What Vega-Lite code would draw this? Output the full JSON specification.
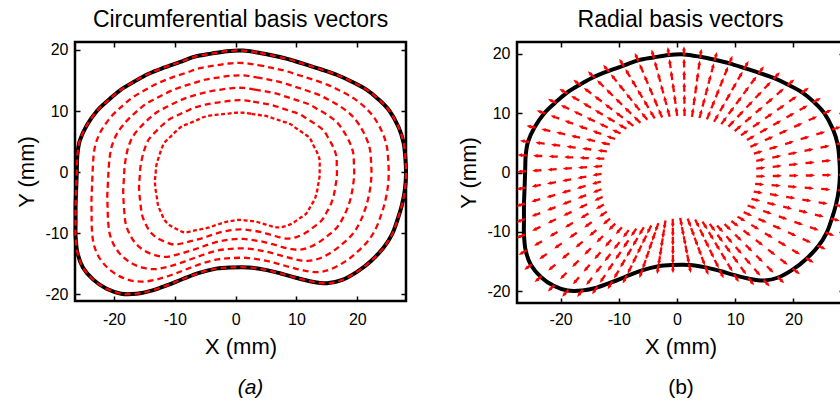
{
"$schema":"https://vega.github.io/schema/vega-lite/v6.json",
"padding":{"left":13,"top":8,"right":0,"bottom":0},
"datasets":{
"pts":[
{"c":0,"k":0,"x":1.2,"y":19.9},{"c":0,"k":1,"x":4.0,"y":19.5},{"c":0,"k":2,"x":6.5,"y":19.0},{"c":0,"k":3,"x":9.0,"y":18.4},{"c":0,"k":4,"x":11.6,"y":17.6},{"c":0,"k":5,"x":14.1,"y":16.8},{"c":0,"k":6,"x":16.7,"y":15.9},{"c":0,"k":7,"x":19.1,"y":14.8},{"c":0,"k":8,"x":21.5,"y":13.5},{"c":0,"k":9,"x":23.5,"y":11.9},{"c":0,"k":10,"x":25.3,"y":10.0},{"c":0,"k":11,"x":26.8,"y":7.3},{"c":0,"k":12,"x":27.6,"y":4.8},{"c":0,"k":13,"x":27.9,"y":2.2},{"c":0,"k":14,"x":28.0,"y":-0.4},{"c":0,"k":15,"x":27.8,"y":-3.0},{"c":0,"k":16,"x":27.3,"y":-5.5},{"c":0,"k":17,"x":26.6,"y":-7.8},{"c":0,"k":18,"x":25.7,"y":-10.2},{"c":0,"k":19,"x":24.3,"y":-12.4},{"c":0,"k":20,"x":22.3,"y":-14.5},{"c":0,"k":21,"x":20.0,"y":-16.3},{"c":0,"k":22,"x":17.4,"y":-17.7},{"c":0,"k":23,"x":15.0,"y":-18.2},{"c":0,"k":24,"x":12.4,"y":-17.9},{"c":0,"k":25,"x":9.9,"y":-17.3},{"c":0,"k":26,"x":7.4,"y":-16.6},{"c":0,"k":27,"x":4.9,"y":-16.0},{"c":0,"k":28,"x":2.1,"y":-15.6},{"c":0,"k":29,"x":-0.7,"y":-15.6},{"c":0,"k":30,"x":-3.2,"y":-15.8},{"c":0,"k":31,"x":-6.0,"y":-16.5},{"c":0,"k":32,"x":-8.7,"y":-17.5},{"c":0,"k":33,"x":-11.2,"y":-18.5},{"c":0,"k":34,"x":-13.8,"y":-19.4},{"c":0,"k":35,"x":-16.3,"y":-19.9},{"c":0,"k":36,"x":-18.8,"y":-19.9},{"c":0,"k":37,"x":-21.2,"y":-19.1},{"c":0,"k":38,"x":-23.4,"y":-17.6},{"c":0,"k":39,"x":-25.1,"y":-15.6},{"c":0,"k":40,"x":-26.0,"y":-13.2},{"c":0,"k":41,"x":-26.3,"y":-10.5},{"c":0,"k":42,"x":-26.3,"y":-7.9},{"c":0,"k":43,"x":-26.3,"y":-5.3},{"c":0,"k":44,"x":-26.2,"y":-2.6},{"c":0,"k":45,"x":-26.1,"y":0.2},{"c":0,"k":46,"x":-26.0,"y":2.9},{"c":0,"k":47,"x":-25.6,"y":5.2},{"c":0,"k":48,"x":-24.5,"y":7.6},{"c":0,"k":49,"x":-22.8,"y":10.0},{"c":0,"k":50,"x":-20.9,"y":11.8},{"c":0,"k":51,"x":-19.0,"y":13.4},{"c":0,"k":52,"x":-16.7,"y":14.8},{"c":0,"k":53,"x":-14.3,"y":16.1},{"c":0,"k":54,"x":-11.8,"y":17.1},{"c":0,"k":55,"x":-9.2,"y":18.0},{"c":0,"k":56,"x":-6.7,"y":18.9},{"c":0,"k":57,"x":-4.0,"y":19.4},{"c":0,"k":58,"x":-1.4,"y":19.8},
{"c":1,"k":0,"x":1.22,"y":17.86},{"c":1,"k":1,"x":3.72,"y":17.51},{"c":1,"k":2,"x":5.98,"y":17.07},{"c":1,"k":3,"x":8.24,"y":16.55},{"c":1,"k":4,"x":10.57,"y":15.82},{"c":1,"k":5,"x":12.82,"y":15.1},{"c":1,"k":6,"x":15.15,"y":14.29},{"c":1,"k":7,"x":17.29,"y":13.26},{"c":1,"k":8,"x":19.43,"y":12.07},{"c":1,"k":9,"x":21.23,"y":10.63},{"c":1,"k":10,"x":22.79,"y":8.88},{"c":1,"k":11,"x":24.12,"y":6.48},{"c":1,"k":12,"x":24.84,"y":4.24},{"c":1,"k":13,"x":25.08,"y":1.9},{"c":1,"k":14,"x":25.16,"y":-0.45},{"c":1,"k":15,"x":24.96,"y":-2.79},{"c":1,"k":16,"x":24.51,"y":-5.05},{"c":1,"k":17,"x":23.87,"y":-7.14},{"c":1,"k":18,"x":23.02,"y":-9.28},{"c":1,"k":19,"x":21.76,"y":-11.27},{"c":1,"k":20,"x":19.95,"y":-13.11},{"c":1,"k":21,"x":17.9,"y":-14.7},{"c":1,"k":22,"x":15.58,"y":-15.92},{"c":1,"k":23,"x":13.4,"y":-16.37},{"c":1,"k":24,"x":11.07,"y":-16.08},{"c":1,"k":25,"x":8.81,"y":-15.52},{"c":1,"k":26,"x":6.56,"y":-14.9},{"c":1,"k":27,"x":4.3,"y":-14.39},{"c":1,"k":28,"x":1.8,"y":-14.04},{"c":1,"k":29,"x":-0.71,"y":-14.08},{"c":1,"k":30,"x":-2.96,"y":-14.29},{"c":1,"k":31,"x":-5.45,"y":-14.94},{"c":1,"k":32,"x":-7.86,"y":-15.82},{"c":1,"k":33,"x":-10.12,"y":-16.68},{"c":1,"k":34,"x":-12.46,"y":-17.44},{"c":1,"k":35,"x":-14.72,"y":-17.89},{"c":1,"k":36,"x":-16.96,"y":-17.79},{"c":1,"k":37,"x":-19.11,"y":-17.03},{"c":1,"k":38,"x":-21.05,"y":-15.66},{"c":1,"k":39,"x":-22.52,"y":-13.82},{"c":1,"k":40,"x":-23.35,"y":-11.66},{"c":1,"k":41,"x":-23.63,"y":-9.24},{"c":1,"k":42,"x":-23.67,"y":-6.9},{"c":1,"k":43,"x":-23.69,"y":-4.55},{"c":1,"k":44,"x":-23.59,"y":-2.13},{"c":1,"k":45,"x":-23.49,"y":0.37},{"c":1,"k":46,"x":-23.33,"y":2.79},{"c":1,"k":47,"x":-22.93,"y":4.88},{"c":1,"k":48,"x":-21.95,"y":7.03},{"c":1,"k":49,"x":-20.4,"y":9.14},{"c":1,"k":50,"x":-18.69,"y":10.77},{"c":1,"k":51,"x":-16.97,"y":12.21},{"c":1,"k":52,"x":-14.89,"y":13.43},{"c":1,"k":53,"x":-12.72,"y":14.58},{"c":1,"k":54,"x":-10.48,"y":15.48},{"c":1,"k":55,"x":-8.15,"y":16.26},{"c":1,"k":56,"x":-5.88,"y":17.01},{"c":1,"k":57,"x":-3.46,"y":17.44},{"c":1,"k":58,"x":-1.12,"y":17.78},
{"c":2,"k":0,"x":1.24,"y":15.83},{"c":2,"k":1,"x":3.44,"y":15.52},{"c":2,"k":2,"x":5.46,"y":15.14},{"c":2,"k":3,"x":7.48,"y":14.69},{"c":2,"k":4,"x":9.54,"y":14.04},{"c":2,"k":5,"x":11.54,"y":13.4},{"c":2,"k":6,"x":13.6,"y":12.68},{"c":2,"k":7,"x":15.48,"y":11.72},{"c":2,"k":8,"x":17.36,"y":10.64},{"c":2,"k":9,"x":18.97,"y":9.37},{"c":2,"k":10,"x":20.29,"y":7.76},{"c":2,"k":11,"x":21.43,"y":5.67},{"c":2,"k":12,"x":22.08,"y":3.68},{"c":2,"k":13,"x":22.26,"y":1.59},{"c":2,"k":14,"x":22.32,"y":-0.5},{"c":2,"k":15,"x":22.12,"y":-2.58},{"c":2,"k":16,"x":21.72,"y":-4.6},{"c":2,"k":17,"x":21.15,"y":-6.48},{"c":2,"k":18,"x":20.34,"y":-8.37},{"c":2,"k":19,"x":19.23,"y":-10.14},{"c":2,"k":20,"x":17.6,"y":-11.71},{"c":2,"k":21,"x":15.79,"y":-13.1},{"c":2,"k":22,"x":13.76,"y":-14.14},{"c":2,"k":23,"x":11.8,"y":-14.54},{"c":2,"k":24,"x":9.73,"y":-14.26},{"c":2,"k":25,"x":7.73,"y":-13.75},{"c":2,"k":26,"x":5.72,"y":-13.19},{"c":2,"k":27,"x":3.7,"y":-12.77},{"c":2,"k":28,"x":1.49,"y":-12.49},{"c":2,"k":29,"x":-0.71,"y":-12.56},{"c":2,"k":30,"x":-2.72,"y":-12.79},{"c":2,"k":31,"x":-4.9,"y":-13.38},{"c":2,"k":32,"x":-7.02,"y":-14.14},{"c":2,"k":33,"x":-9.04,"y":-14.85},{"c":2,"k":34,"x":-11.12,"y":-15.49},{"c":2,"k":35,"x":-13.14,"y":-15.88},{"c":2,"k":36,"x":-15.12,"y":-15.69},{"c":2,"k":37,"x":-17.02,"y":-14.96},{"c":2,"k":38,"x":-18.7,"y":-13.71},{"c":2,"k":39,"x":-19.95,"y":-12.04},{"c":2,"k":40,"x":-20.69,"y":-10.11},{"c":2,"k":41,"x":-20.96,"y":-7.97},{"c":2,"k":42,"x":-21.04,"y":-5.89},{"c":2,"k":43,"x":-21.09,"y":-3.81},{"c":2,"k":44,"x":-20.98,"y":-1.66},{"c":2,"k":45,"x":-20.87,"y":0.54},{"c":2,"k":46,"x":-20.67,"y":2.67},{"c":2,"k":47,"x":-20.26,"y":4.55},{"c":2,"k":48,"x":-19.39,"y":6.47},{"c":2,"k":49,"x":-18.0,"y":8.28},{"c":2,"k":50,"x":-16.48,"y":9.74},{"c":2,"k":51,"x":-14.94,"y":11.02},{"c":2,"k":52,"x":-13.08,"y":12.07},{"c":2,"k":53,"x":-11.15,"y":13.06},{"c":2,"k":54,"x":-9.16,"y":13.87},{"c":2,"k":55,"x":-7.09,"y":14.52},{"c":2,"k":56,"x":-5.07,"y":15.12},{"c":2,"k":57,"x":-2.92,"y":15.47},{"c":2,"k":58,"x":-0.84,"y":15.77},
{"c":3,"k":0,"x":1.25,"y":13.79},{"c":3,"k":1,"x":3.16,"y":13.52},{"c":3,"k":2,"x":4.95,"y":13.21},{"c":3,"k":3,"x":6.73,"y":12.84},{"c":3,"k":4,"x":8.52,"y":12.27},{"c":3,"k":5,"x":10.27,"y":11.7},{"c":3,"k":6,"x":12.06,"y":11.08},{"c":3,"k":7,"x":13.67,"y":10.19},{"c":3,"k":8,"x":15.29,"y":9.22},{"c":3,"k":9,"x":16.7,"y":8.1},{"c":3,"k":10,"x":17.78,"y":6.63},{"c":3,"k":11,"x":18.75,"y":4.85},{"c":3,"k":12,"x":19.32,"y":3.12},{"c":3,"k":13,"x":19.44,"y":1.29},{"c":3,"k":14,"x":19.48,"y":-0.54},{"c":3,"k":15,"x":19.27,"y":-2.36},{"c":3,"k":16,"x":18.94,"y":-4.14},{"c":3,"k":17,"x":18.42,"y":-5.81},{"c":3,"k":18,"x":17.66,"y":-7.45},{"c":3,"k":19,"x":16.69,"y":-9.02},{"c":3,"k":20,"x":15.26,"y":-10.32},{"c":3,"k":21,"x":13.69,"y":-11.49},{"c":3,"k":22,"x":11.94,"y":-12.37},{"c":3,"k":23,"x":10.2,"y":-12.71},{"c":3,"k":24,"x":8.4,"y":-12.45},{"c":3,"k":25,"x":6.64,"y":-11.97},{"c":3,"k":26,"x":4.88,"y":-11.49},{"c":3,"k":27,"x":3.09,"y":-11.16},{"c":3,"k":28,"x":1.19,"y":-10.93},{"c":3,"k":29,"x":-0.72,"y":-11.03},{"c":3,"k":30,"x":-2.49,"y":-11.28},{"c":3,"k":31,"x":-4.36,"y":-11.81},{"c":3,"k":32,"x":-6.19,"y":-12.46},{"c":3,"k":33,"x":-7.96,"y":-13.03},{"c":3,"k":34,"x":-9.78,"y":-13.53},{"c":3,"k":35,"x":-11.56,"y":-13.88},{"c":3,"k":36,"x":-13.27,"y":-13.58},{"c":3,"k":37,"x":-14.93,"y":-12.89},{"c":3,"k":38,"x":-16.35,"y":-11.77},{"c":3,"k":39,"x":-17.37,"y":-10.25},{"c":3,"k":40,"x":-18.04,"y":-8.57},{"c":3,"k":41,"x":-18.28,"y":-6.71},{"c":3,"k":42,"x":-18.41,"y":-4.89},{"c":3,"k":43,"x":-18.48,"y":-3.06},{"c":3,"k":44,"x":-18.37,"y":-1.19},{"c":3,"k":45,"x":-18.26,"y":0.72},{"c":3,"k":46,"x":-18.0,"y":2.56},{"c":3,"k":47,"x":-17.59,"y":4.23},{"c":3,"k":48,"x":-16.84,"y":5.9},{"c":3,"k":49,"x":-15.6,"y":7.42},{"c":3,"k":50,"x":-14.28,"y":8.7},{"c":3,"k":51,"x":-12.91,"y":9.83},{"c":3,"k":52,"x":-11.27,"y":10.7},{"c":3,"k":53,"x":-9.57,"y":11.54},{"c":3,"k":54,"x":-7.85,"y":12.25},{"c":3,"k":55,"x":-6.04,"y":12.77},{"c":3,"k":56,"x":-4.25,"y":13.22},{"c":3,"k":57,"x":-2.39,"y":13.51},{"c":3,"k":58,"x":-0.55,"y":13.75},
{"c":4,"k":0,"x":1.27,"y":11.76},{"c":4,"k":1,"x":2.88,"y":11.53},{"c":4,"k":2,"x":4.43,"y":11.28},{"c":4,"k":3,"x":5.97,"y":10.98},{"c":4,"k":4,"x":7.49,"y":10.49},{"c":4,"k":5,"x":8.99,"y":10.0},{"c":4,"k":6,"x":10.51,"y":9.47},{"c":4,"k":7,"x":11.86,"y":8.65},{"c":4,"k":8,"x":13.21,"y":7.79},{"c":4,"k":9,"x":14.44,"y":6.84},{"c":4,"k":10,"x":15.28,"y":5.51},{"c":4,"k":11,"x":16.06,"y":4.04},{"c":4,"k":12,"x":16.56,"y":2.56},{"c":4,"k":13,"x":16.62,"y":0.98},{"c":4,"k":14,"x":16.64,"y":-0.59},{"c":4,"k":15,"x":16.43,"y":-2.15},{"c":4,"k":16,"x":16.15,"y":-3.69},{"c":4,"k":17,"x":15.7,"y":-5.15},{"c":4,"k":18,"x":14.98,"y":-6.54},{"c":4,"k":19,"x":14.16,"y":-7.89},{"c":4,"k":20,"x":12.91,"y":-8.92},{"c":4,"k":21,"x":11.58,"y":-9.89},{"c":4,"k":22,"x":10.12,"y":-10.59},{"c":4,"k":23,"x":8.6,"y":-10.88},{"c":4,"k":24,"x":7.06,"y":-10.63},{"c":4,"k":25,"x":5.56,"y":-10.2},{"c":4,"k":26,"x":4.04,"y":-9.78},{"c":4,"k":27,"x":2.49,"y":-9.54},{"c":4,"k":28,"x":0.88,"y":-9.38},{"c":4,"k":29,"x":-0.72,"y":-9.51},{"c":4,"k":30,"x":-2.25,"y":-9.78},{"c":4,"k":31,"x":-3.81,"y":-10.25},{"c":4,"k":32,"x":-5.35,"y":-10.78},{"c":4,"k":33,"x":-6.88,"y":-11.2},{"c":4,"k":34,"x":-8.44,"y":-11.58},{"c":4,"k":35,"x":-9.98,"y":-11.87},{"c":4,"k":36,"x":-11.43,"y":-11.48},{"c":4,"k":37,"x":-12.84,"y":-10.82},{"c":4,"k":38,"x":-14.0,"y":-9.82},{"c":4,"k":39,"x":-14.8,"y":-8.47},{"c":4,"k":40,"x":-15.38,"y":-7.02},{"c":4,"k":41,"x":-15.61,"y":-5.44},{"c":4,"k":42,"x":-15.78,"y":-3.88},{"c":4,"k":43,"x":-15.88,"y":-2.32},{"c":4,"k":44,"x":-15.76,"y":-0.72},{"c":4,"k":45,"x":-15.64,"y":0.89},{"c":4,"k":46,"x":-15.34,"y":2.44},{"c":4,"k":47,"x":-14.92,"y":3.9},{"c":4,"k":48,"x":-14.28,"y":5.34},{"c":4,"k":49,"x":-13.2,"y":6.56},{"c":4,"k":50,"x":-12.07,"y":7.67},{"c":4,"k":51,"x":-10.88,"y":8.64},{"c":4,"k":52,"x":-9.45,"y":9.34},{"c":4,"k":53,"x":-8.0,"y":10.02},{"c":4,"k":54,"x":-6.53,"y":10.63},{"c":4,"k":55,"x":-4.98,"y":11.03},{"c":4,"k":56,"x":-3.44,"y":11.33},{"c":4,"k":57,"x":-1.85,"y":11.55},{"c":4,"k":58,"x":-0.27,"y":11.74},
{"c":5,"k":0,"x":1.29,"y":9.72},{"c":5,"k":1,"x":2.6,"y":9.54},{"c":5,"k":2,"x":3.91,"y":9.35},{"c":5,"k":3,"x":5.21,"y":9.13},{"c":5,"k":4,"x":6.46,"y":8.71},{"c":5,"k":5,"x":7.71,"y":8.3},{"c":5,"k":6,"x":8.96,"y":7.86},{"c":5,"k":7,"x":10.05,"y":7.11},{"c":5,"k":8,"x":11.14,"y":6.36},{"c":5,"k":9,"x":12.17,"y":5.57},{"c":5,"k":10,"x":12.77,"y":4.39},{"c":5,"k":11,"x":13.38,"y":3.22},{"c":5,"k":12,"x":13.8,"y":2.0},{"c":5,"k":13,"x":13.8,"y":0.68},{"c":5,"k":14,"x":13.8,"y":-0.64},{"c":5,"k":15,"x":13.59,"y":-1.94},{"c":5,"k":16,"x":13.36,"y":-3.24},{"c":5,"k":17,"x":12.97,"y":-4.49},{"c":5,"k":18,"x":12.3,"y":-5.62},{"c":5,"k":19,"x":11.62,"y":-6.76},{"c":5,"k":20,"x":10.56,"y":-7.53},{"c":5,"k":21,"x":9.48,"y":-8.29},{"c":5,"k":22,"x":8.3,"y":-8.81},{"c":5,"k":23,"x":7.0,"y":-9.05},{"c":5,"k":24,"x":5.73,"y":-8.81},{"c":5,"k":25,"x":4.47,"y":-8.42},{"c":5,"k":26,"x":3.2,"y":-8.08},{"c":5,"k":27,"x":1.89,"y":-7.93},{"c":5,"k":28,"x":0.58,"y":-7.82},{"c":5,"k":29,"x":-0.73,"y":-7.99},{"c":5,"k":30,"x":-2.01,"y":-8.27},{"c":5,"k":31,"x":-3.26,"y":-8.69},{"c":5,"k":32,"x":-4.51,"y":-9.1},{"c":5,"k":33,"x":-5.8,"y":-9.38},{"c":5,"k":34,"x":-7.1,"y":-9.62},{"c":5,"k":35,"x":-8.4,"y":-9.86},{"c":5,"k":36,"x":-9.59,"y":-9.37},{"c":5,"k":37,"x":-10.75,"y":-8.75},{"c":5,"k":38,"x":-11.65,"y":-7.88},{"c":5,"k":39,"x":-12.22,"y":-6.69},{"c":5,"k":40,"x":-12.73,"y":-5.48},{"c":5,"k":41,"x":-12.94,"y":-4.18},{"c":5,"k":42,"x":-13.15,"y":-2.88},{"c":5,"k":43,"x":-13.27,"y":-1.57},{"c":5,"k":44,"x":-13.15,"y":-0.25},{"c":5,"k":45,"x":-13.03,"y":1.06},{"c":5,"k":46,"x":-12.67,"y":2.33},{"c":5,"k":47,"x":-12.25,"y":3.58},{"c":5,"k":48,"x":-11.73,"y":4.77},{"c":5,"k":49,"x":-10.8,"y":5.7},{"c":5,"k":50,"x":-9.86,"y":6.64},{"c":5,"k":51,"x":-8.85,"y":7.45},{"c":5,"k":52,"x":-7.64,"y":7.97},{"c":5,"k":53,"x":-6.42,"y":8.5},{"c":5,"k":54,"x":-5.21,"y":9.02},{"c":5,"k":55,"x":-3.93,"y":9.29},{"c":5,"k":56,"x":-2.62,"y":9.44},{"c":5,"k":57,"x":-1.31,"y":9.58},{"c":5,"k":58,"x":0.01,"y":9.72}
],
"ang":[
{"k":0,"a":359.5},{"k":1,"a":8.0},{"k":2,"a":15.0},{"k":3,"a":22.2},{"k":4,"a":30.0},{"k":5,"a":36.9},{"k":6,"a":43.9},{"k":7,"a":49.6},{"k":8,"a":55.4},{"k":9,"a":60.8},{"k":10,"a":65.9},{"k":11,"a":73.1},{"k":12,"a":78.5},{"k":13,"a":83.8},{"k":14,"a":89.0},{"k":15,"a":94.3},{"k":16,"a":99.2},{"k":17,"a":103.6},{"k":18,"a":108.9},{"k":19,"a":114.0},{"k":20,"a":120.7},{"k":21,"a":127.3},{"k":22,"a":134.3},{"k":23,"a":138.8},{"k":24,"a":143.7},{"k":25,"a":148.6},{"k":26,"a":153.8},{"k":27,"a":159.5},{"k":28,"a":168.9},{"k":29,"a":179.8},{"k":30,"a":189.0},{"k":31,"a":199.3},{"k":32,"a":206.5},{"k":33,"a":210.6},{"k":34,"a":214.4},{"k":35,"a":218.2},{"k":36,"a":221.2},{"k":37,"a":225.3},{"k":38,"a":230.4},{"k":39,"a":235.3},{"k":40,"a":239.8},{"k":41,"a":244.7},{"k":42,"a":249.1},{"k":43,"a":254.0},{"k":44,"a":259.8},{"k":45,"a":266.2},{"k":46,"a":272.4},{"k":47,"a":276.9},{"k":48,"a":282.5},{"k":49,"a":289.7},{"k":50,"a":295.0},{"k":51,"a":300.4},{"k":52,"a":307.0},{"k":53,"a":314.0},{"k":54,"a":320.8},{"k":55,"a":328.8},{"k":56,"a":336.7},{"k":57,"a":344.7},{"k":58,"a":352.0}
]
},
"bounds":"flush",
"spacing":111,
"hconcat":[
{
"width":331,"height":259,
"data":{"name":"pts"},
"title":{"text":"Circumferential basis vectors","anchor":"middle","frame":"group","baseline":"alphabetic","offset":-9},
"layer":[
{"mark":{"type":"point","opacity":0},
"encoding":{
"x":{"field":"x","type":"quantitative","scale":{"domain":[-26.4,28],"nice":false,"zero":false},"axis":{"orient":"bottom","labels":false,"ticks":false,"title":"(a)","titleFontStyle":"italic","titleFontSize":21,"titleX":175,"titleY":92,"titleBaseline":"alphabetic"}},
"y":{"field":"y","type":"quantitative","scale":{"domain":[-21.1,21.3],"nice":false,"zero":false},"axis":{"orient":"right","values":[-20,-10,0,10,20],"labels":false,"title":null}}}},
{"transform":[{"filter":"datum.c == 0"}],
"mark":{"type":"line","interpolate":"cardinal-closed","stroke":"black","strokeWidth":4},
"encoding":{
"x":{"field":"x","type":"quantitative","scale":{"domain":[-26.4,28],"nice":false,"zero":false},"axis":{"orient":"bottom","values":[-20,-10,0,10,20],"labelExpr":"datum.value + ''","title":"X (mm)","titleY":52,"titleBaseline":"alphabetic","labelBaseline":"alphabetic","labelPadding":28}},
"y":{"field":"y","type":"quantitative","scale":{"domain":[-21.1,21.3],"nice":false,"zero":false},"axis":{"orient":"left","values":[-20,-10,0,10,20],"labelExpr":"datum.value + ''","title":"Y (mm)","titleX":-42,"titleBaseline":"alphabetic","labelPadding":12}},
"order":{"field":"k","type":"quantitative"}}},
{"mark":{"type":"line","interpolate":"cardinal-closed","stroke":"#ff0000","strokeWidth":2.3},
"encoding":{
"x":{"field":"x","type":"quantitative","scale":{"domain":[-26.4,28],"nice":false,"zero":false},"axis":{"orient":"top","values":[-20,-10,0,10,20],"labels":false,"title":null}},
"y":{"field":"y","type":"quantitative","scale":{"domain":[-21.1,21.3],"nice":false,"zero":false},"axis":null},
"detail":{"field":"c","type":"nominal"},
"order":{"field":"k","type":"quantitative"},
"strokeDash":{"field":"c","type":"ordinal","scale":{"domain":[0,1,2,3,4,5],"range":[[6,4],[6,4],[6,4],[6,4],[6,4],[4,2.5]]},"legend":null}}}
],
"resolve":{"axis":{"x":"independent","y":"independent"}}
},
{
"width":327,"height":261,
"data":{"name":"pts"},
"title":{"text":"Radial basis vectors","anchor":"middle","frame":"group","baseline":"alphabetic","offset":-9},
"layer":[
{"mark":{"type":"point","opacity":0},
"encoding":{
"x":{"field":"x","type":"quantitative","scale":{"domain":[-27.5,28.7],"nice":false,"zero":false},"axis":{"orient":"bottom","labels":false,"ticks":false,"title":"(b)","titleFontSize":21,"titleY":90.5,"titleBaseline":"alphabetic"}},
"y":{"field":"y","type":"quantitative","scale":{"domain":[-22,22],"nice":false,"zero":false},"axis":{"orient":"right","values":[-20,-10,0,10,20],"labels":false,"title":null}}}},
{"transform":[{"filter":"datum.c == 0"}],
"mark":{"type":"line","interpolate":"cardinal-closed","stroke":"black","strokeWidth":4},
"encoding":{
"x":{"field":"x","type":"quantitative","scale":{"domain":[-27.5,28.7],"nice":false,"zero":false},"axis":{"orient":"bottom","values":[-20,-10,0,10,20],"labelExpr":"datum.value + ''","title":"X (mm)","titleY":50,"titleBaseline":"alphabetic","labelBaseline":"alphabetic","labelPadding":26}},
"y":{"field":"y","type":"quantitative","scale":{"domain":[-22,22],"nice":false,"zero":false},"axis":{"orient":"left","values":[-20,-10,0,10,20],"labelExpr":"datum.value + ''","title":"Y (mm)","titleX":-42,"titleBaseline":"alphabetic","labelPadding":12}},
"order":{"field":"k","type":"quantitative"}}},
{"transform":[{"lookup":"k","from":{"data":{"name":"ang"},"key":"k","fields":["a"]}}],
"mark":{"type":"point","shape":"M0,0.2L0,-1M-0.15,-0.65L0,-1L0.15,-0.65","filled":false,"stroke":"#ff0000","strokeWidth":2.3,"opacity":1,"size":110,"strokeCap":"butt"},
"encoding":{
"x":{"field":"x","type":"quantitative","scale":{"domain":[-27.5,28.7],"nice":false,"zero":false},"axis":{"orient":"top","values":[-20,-10,0,10,20],"labels":false,"title":null}},
"y":{"field":"y","type":"quantitative","scale":{"domain":[-22,22],"nice":false,"zero":false},"axis":null},
"angle":{"field":"a","type":"quantitative","scale":{"domain":[0,360],"range":[0,360]}}}}
],
"resolve":{"axis":{"x":"independent","y":"independent"}}
}
],
"config":{
"font":"Liberation Sans",
"view":{"stroke":"black","strokeWidth":2.5},
"axis":{"grid":false,"domain":false,"tickColor":"black","tickWidth":1.5,"tickSize":-5,"labelFont":"Liberation Sans","labelFontSize":16,"labelColor":"black","labelFlush":false,"labelOverlap":false,"titleFont":"Liberation Sans","titleFontSize":22,"titleFontWeight":"normal","titleColor":"black"},
"title":{"font":"Liberation Sans","fontSize":23,"fontWeight":"normal","color":"black"}
}
}
